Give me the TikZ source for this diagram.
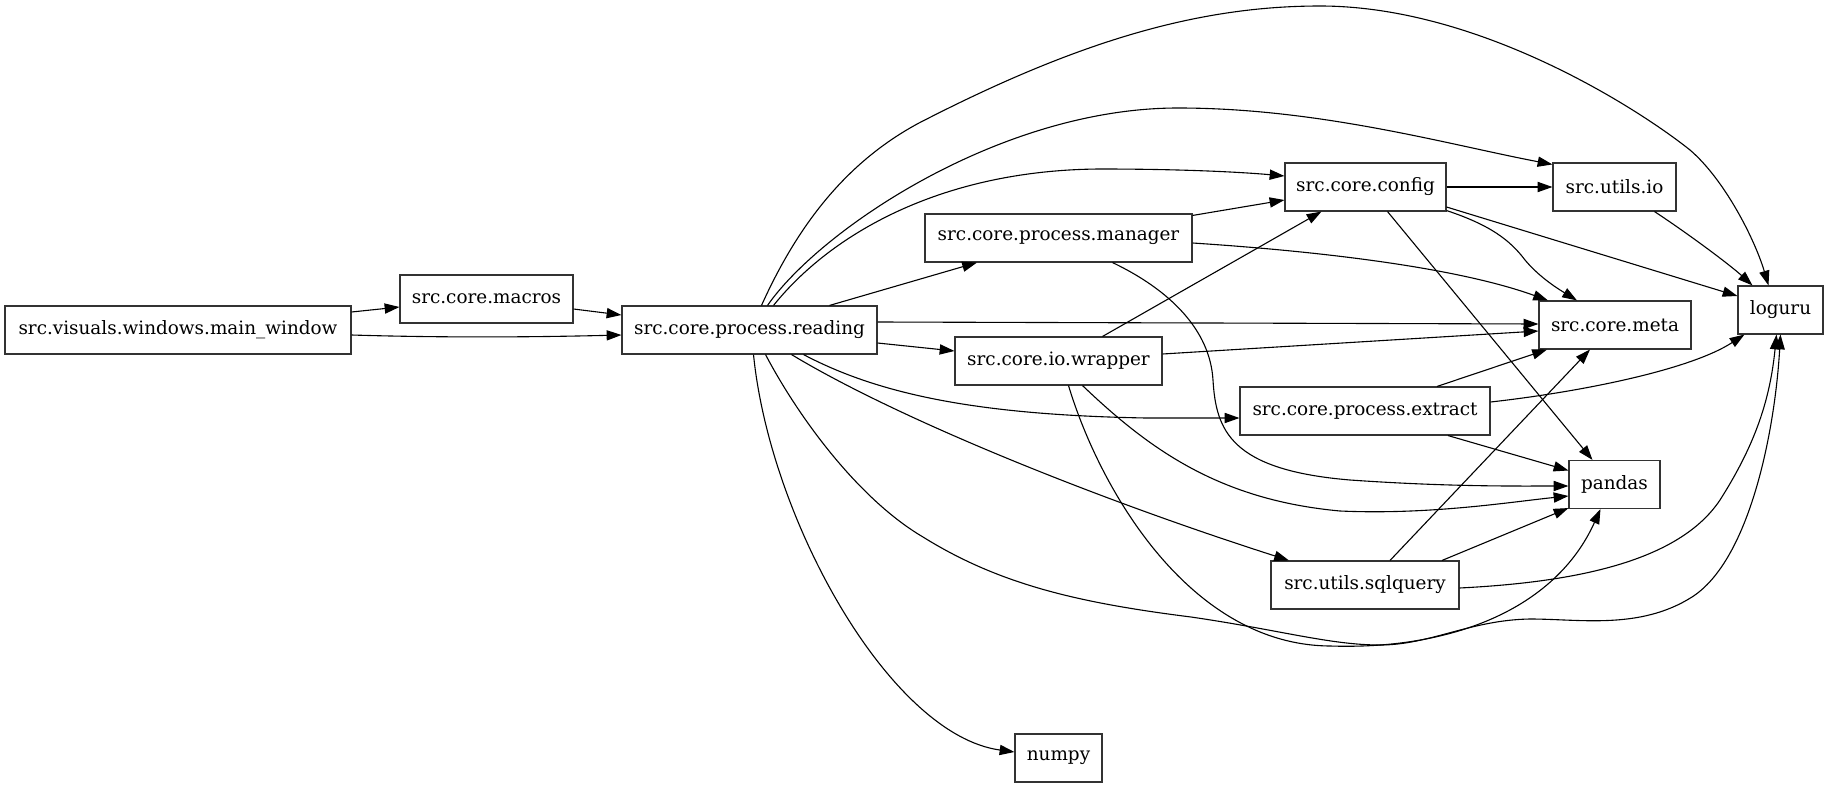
\documentclass[tikz,border=0pt]{standalone}
\usepackage{fontspec}
\setmainfont{DejaVu Serif}
\usetikzlibrary{arrows.meta}

\begin{document}
\begin{tikzpicture}[
    x=0.5pt,
    y=-0.5pt,
    >={Triangle[length=7.4pt,width=5.1pt]},
    dep/.style={->, line width=0.55pt},
    mod/.style={draw=black!80, line width=0.55pt, minimum height=24pt, inner sep=0pt,
      font=\fontsize{9.2}{11}\selectfont}
  ]
  \useasboundingbox (0,0) rectangle (1828,787);

  \node[mod, minimum width=173pt] (mainwin) at (178,330) {src.visuals.windows.main\_window};
  \node[mod, minimum width=86.5pt] (macros) at (486.5,299) {src.core.macros};
  \node[mod, minimum width=127.5pt] (reading) at (749.5,330) {src.core.process.reading};
  \node[mod, minimum width=133.5pt] (manager) at (1058.5,238) {src.core.process.manager};
  \node[mod, minimum width=103.5pt] (wrapper) at (1058.5,361) {src.core.io.wrapper};
  \node[mod, minimum width=43.5pt] (numpy) at (1058.5,758) {numpy};
  \node[mod, minimum width=80.5pt] (config) at (1365.5,187) {src.core.config};
  \node[mod, minimum width=125pt] (extract) at (1365,411) {src.core.process.extract};
  \node[mod, minimum width=94pt] (sqlquery) at (1365,585) {src.utils.sqlquery};
  \node[mod, minimum width=61.5pt] (utilsio) at (1614.5,187) {src.utils.io};
  \node[mod, minimum width=76pt] (meta) at (1615,325) {src.core.meta};
  \node[mod, minimum width=45.5pt] (pandas) at (1614.5,484.5) {pandas};
  \node[mod, minimum width=42.5pt] (loguru) at (1780.5,310) {loguru};

  % entry point
  \draw[dep] ([yshift=9pt]mainwin.east) -- ([yshift=-4pt]macros.west);
  \draw[dep] ([yshift=-2.5pt]mainwin.east) .. controls (450,338) and (540,337)
    .. ([yshift=-2.5pt]reading.west);
  \draw[dep] ([yshift=-5pt]macros.east) -- ([yshift=7.5pt]reading.west);

  % reading
  \draw[dep] ([xshift=40pt]reading.north) -- ([xshift=-40.75pt]manager.south);
  \draw[dep] ([yshift=-6.5pt]reading.east) -- ([yshift=5pt]wrapper.west);
  \draw[dep] ([xshift=12pt]reading.north) .. controls (830,235) and (940,170)
    .. (1100,169) .. controls (1180,169) and (1240,172) .. ([yshift=5.5pt]config.west);
  \draw[dep] ([xshift=9pt]reading.north) .. controls (820,230) and (1000,108)
    .. (1178,108) .. controls (1320,108) and (1450,145) .. ([yshift=-1pt]utilsio.north west);
  \draw[dep] ([xshift=6pt]reading.north) .. controls (800,220) and (850,160)
    .. (919,123) .. controls (1080,40) and (1200,6)
    .. (1320,6) .. controls (1480,6) and (1640,110)
    .. (1690,150) .. controls (1725,180) and (1755,240) .. ([xshift=-6pt]loguru.north);
  \draw[dep] ([yshift=4pt]reading.east) -- ([yshift=0.5pt]meta.west);
  \draw[dep] ([xshift=27pt]reading.south) .. controls (880,395) and (980,415)
    .. (1146,418) .. controls (1190,418) and (1220,418) .. ([yshift=-3.5pt]extract.west);
  \draw[dep] ([xshift=21pt]reading.south) .. controls (900,420) and (1100,500)
    .. ([xshift=-38pt]sqlquery.north);
  \draw[dep] ([xshift=8pt]reading.south) .. controls (800,420) and (860,500)
    .. (923,537) .. controls (1000,585) and (1080,603)
    .. (1191,617) .. controls (1280,630) and (1330,645)
    .. (1380,645) .. controls (1430,645) and (1470,620)
    .. (1530,619) .. controls (1580,619) and (1640,630)
    .. (1692,597) .. controls (1750,560) and (1775,430) .. (loguru.south);
  \draw[dep] ([xshift=2pt]reading.south) .. controls (770,520) and (890,735)
    .. ([yshift=3pt]numpy.west);

  % manager
  \draw[dep] ([yshift=-1pt]manager.north east) -- ([yshift=-6.5pt]config.west);
  \draw[dep] ([yshift=-2.5pt]manager.east) .. controls (1300,250) and (1450,265)
    .. ([xshift=-33.5pt]meta.north);
  \draw[dep] ([xshift=27pt]manager.south) .. controls (1170,290) and (1210,330)
    .. (1213,380) .. controls (1216,430) and (1230,470)
    .. (1350,480) .. controls (1450,487) and (1520,486) .. ([yshift=-0.75pt]pandas.west);

  % wrapper
  \draw[dep] ([xshift=22pt]wrapper.north) -- ([xshift=-22pt]config.south);
  \draw[dep] ([yshift=3.5pt]wrapper.east) -- ([yshift=-3pt]meta.west);
  \draw[dep] ([xshift=12pt]wrapper.south) .. controls (1150,450) and (1220,500)
    .. (1340,511) .. controls (1430,515) and (1510,502) .. ([yshift=-5.75pt]pandas.west);
  \draw[dep] ([xshift=5pt]wrapper.south) .. controls (1100,490) and (1190,645)
    .. (1330,646) .. controls (1450,650) and (1555,610) .. ([xshift=-7pt]pandas.south);

  % config
  \draw[dep] (config.east) -- (utilsio.west);
  \draw[dep] ([yshift=0.5pt]config.south east) .. controls (1490,225) and (1510,240)
    .. (1525,260) .. controls (1540,278) and (1560,290) .. ([xshift=-19pt]meta.north);
  \draw[dep] ([yshift=-10pt]config.east) -- ([yshift=7pt]loguru.west);
  \draw[dep] ([xshift=11pt]config.south) -- ([xshift=-11pt]pandas.north);

  \draw[dep] ([xshift=20pt]utilsio.south) .. controls (1690,235) and (1730,265)
    .. ([xshift=-14pt]loguru.north);

  % extract
  \draw[dep] ([xshift=36pt]extract.north) -- ([xshift=-34pt]meta.south);
  \draw[dep] ([yshift=4.5pt]extract.east) .. controls (1580,392) and (1690,370)
    .. ([xshift=3.5pt]loguru.south west);
  \draw[dep] ([xshift=41.5pt]extract.south) -- ([yshift=7pt]pandas.west);

  % sqlquery
  \draw[dep] ([xshift=12.5pt]sqlquery.north) -- ([xshift=-12.5pt]meta.south);
  \draw[dep] ([xshift=38.5pt]sqlquery.north) -- ([yshift=0.5pt]pandas.south west);
  \draw[dep] ([yshift=-1.5pt]sqlquery.east) .. controls (1580,582) and (1680,560)
    .. (1720,500) .. controls (1755,445) and (1770,400) .. ([xshift=-2pt]loguru.south);
\end{tikzpicture}
\end{document}
